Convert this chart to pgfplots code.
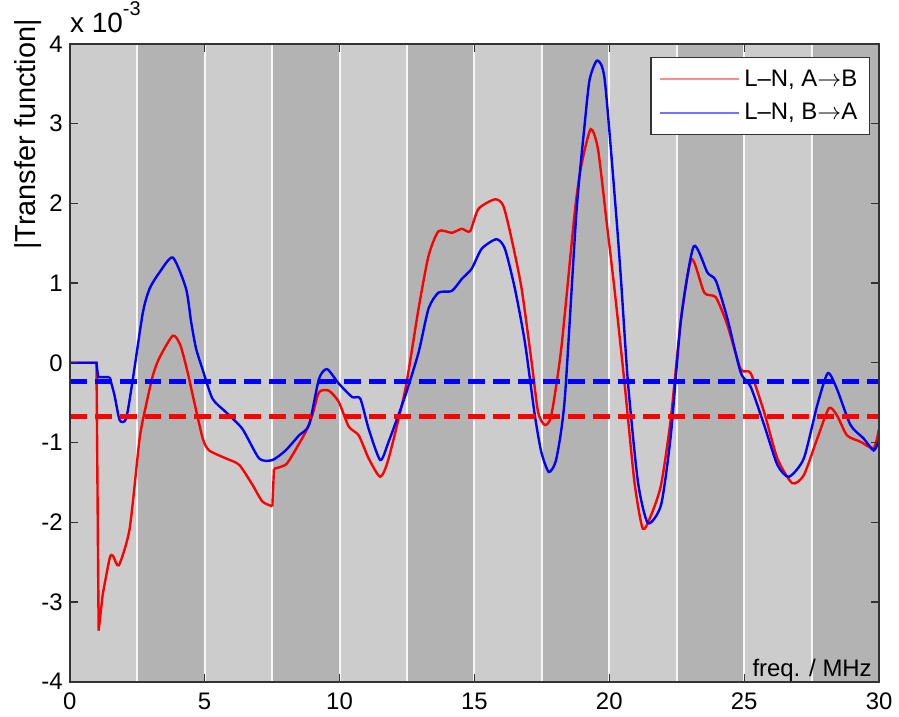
\documentclass[border=0pt]{standalone}
\usepackage{fontspec}
\setmainfont{Liberation Sans}
\usepackage{pgfplots}
\pgfplotsset{compat=1.18}

\definecolor{bandlight}{HTML}{CCCCCC}
\definecolor{banddark}{HTML}{B3B3B3}
\definecolor{axline}{HTML}{333333}

\begin{document}
\begin{tikzpicture}[font=\fontsize{12}{14}\selectfont]
\begin{axis}[
  scale only axis,
  width=406pt, height=320pt,
  xmin=0, xmax=30, ymin=-4, ymax=4,
  xtick={0,5,...,30},
  ytick={-4,-3,...,4},
  yticklabels={-4,-3,-2,-1,0,1,2,3,4},
  /pgf/number format/assume math mode=true,
  tick align=inside,
  major tick length=4pt,
  tick style={axline, line width=0.6pt},
  axis line style={axline, line width=1pt},
  axis background/.style={fill=bandlight},
  axis on top,
  xticklabel style={yshift=-2pt},
  clip=true,
  legend style={at={(1,1)}, anchor=north east, xshift=-4.5pt, yshift=-6.5pt,
    draw=axline, line width=0.8pt, fill=white, inner sep=4pt,
    row sep=3pt, font=\fontsize{12}{14}\selectfont},
  legend cell align=left,
  legend image code/.code={\draw[#1] (-2pt,0pt) -- (38pt,0pt);},
]
% darker frequency bands
\pgfplotsinvokeforeach{2.5,7.5,12.5,17.5,22.5,27.5}{
  \addplot[fill=banddark, draw=none, forget plot]
    coordinates {(#1,-4) (#1+2.5,-4) (#1+2.5,4) (#1,4)} -- cycle;
}
\pgfplotsinvokeforeach{2.5,5,...,27.5}{
  \addplot[white!93!gray, line width=1pt, forget plot]
    coordinates {(#1,-4) (#1,4)};
}

% L-N, A->B (sharp steps drawn straight, the rest smoothed)
\addplot[red, line width=1.2pt, forget plot] coordinates {
(0,0)(0.99,0)(1.07,-3.36)(1.22,-2.91)
};
\addplot[red, line width=1.2pt, smooth, tension=0.4, forget plot] coordinates {
(1.22,-2.91)(1.48,-2.45)(1.6,-2.42)(1.82,-2.54)
(2.22,-2.08)(2.59,-0.95)(2.83,-0.53)(3.08,-0.16)(3.32,0.06)(3.82,0.34)
(4.1,0.22)(4.37,-0.12)(4.56,-0.41)(4.93,-0.95)(5.17,-1.10)(5.79,-1.2)
(6.28,-1.28)(6.77,-1.53)(7.14,-1.74)(7.51,-1.80)
};
\addplot[red, line width=1.2pt, forget plot] coordinates {
(7.51,-1.80)(7.57,-1.33)
};
\addplot[red, line width=1.2pt, smooth, tension=0.4, forget plot] coordinates {
(7.57,-1.33)(8.0,-1.28)
(8.25,-1.16)(8.74,-0.87)(8.99,-0.66)(9.24,-0.37)(9.6,-0.35)(9.97,-0.49)
(10.34,-0.8)(10.71,-0.91)(11.08,-1.2)(11.51,-1.43)(11.82,-1.2)(12.44,-0.33)
(12.93,0.68)(13.3,1.34)(13.67,1.65)(14.16,1.63)(14.53,1.68)(14.84,1.65)
(15.15,1.93)(15.76,2.05)(16.07,1.97)(16.38,1.55)(16.75,0.93)(17.12,0.01)
(17.36,-0.62)(17.61,-0.78)(17.85,-0.66)(18.22,0.18)(18.72,1.89)(18.96,2.47)
(19.31,2.93)(19.58,2.68)(19.89,1.8)(20.2,0.9)(20.56,-0.24)(20.93,-1.49)
(21.24,-2.08)(21.55,-1.91)(21.92,-1.53)(22.28,-0.7)(22.66,0.55)(23.05,1.3)
(23.52,0.88)(23.95,0.82)(24.38,0.47)(24.87,-0.08)(25.24,-0.13)(25.74,-0.62)
(26.23,-1.2)(26.78,-1.51)(27.21,-1.41)(27.71,-0.95)(28.14,-0.57)(28.44,-0.66)
(28.81,-0.91)(29.31,-0.99)(29.8,-1.07)(30,-0.83)
};

% L-N, B->A
\addplot[blue, line width=1.2pt, forget plot] coordinates {
(0,0)(0.99,0)(1.05,-0.18)(1.48,-0.18)
};
\addplot[blue, line width=1.2pt, smooth, tension=0.4, forget plot] coordinates {
(1.48,-0.18)(1.66,-0.41)(1.85,-0.72)(2.09,-0.7)
(2.34,-0.2)(2.71,0.63)(2.96,0.93)(3.32,1.13)(3.82,1.32)(4.31,0.93)(4.5,0.51)
(4.68,0.18)(4.92,-0.08)(5.29,-0.45)(5.79,-0.62)(6.4,-0.83)(7.02,-1.2)
(7.51,-1.22)(8.0,-1.1)(8.5,-0.91)(8.87,-0.78)(9.24,-0.2)(9.54,-0.08)
(9.97,-0.26)(10.47,-0.43)(10.77,-0.45)(11.08,-0.83)(11.51,-1.22)(11.82,-0.99)
(12.44,-0.41)(12.93,0.13)(13.3,0.68)(13.67,0.88)(14.16,0.9)(14.53,1.05)
(14.9,1.18)(15.27,1.43)(15.82,1.55)(16.13,1.43)(16.5,0.93)(16.87,0.26)
(17.24,-0.66)(17.48,-1.12)(17.76,-1.37)(18.04,-1.2)(18.35,-0.45)(18.78,1.88)
(19.09,3.0)(19.27,3.55)(19.55,3.79)(19.83,3.55)(20.25,1.88)(20.44,1.01)
(20.69,-0.24)(21.06,-1.49)(21.43,-2.01)(21.92,-1.78)(22.28,-0.91)(22.66,0.55)
(23.13,1.46)(23.64,1.13)(23.95,1.03)(24.38,0.55)(24.87,-0.12)(25.24,-0.3)
(25.74,-0.78)(26.23,-1.28)(26.66,-1.43)(27.21,-1.2)(27.71,-0.53)(28.1,-0.13)
(28.44,-0.33)(28.94,-0.78)(29.43,-0.95)(29.8,-1.1)(30,-0.97)
};

% thresholds
\addplot[blue, line width=2.5pt, dash pattern=on 8.5pt off 4pt, forget plot]
  coordinates {(0,-0.24) (30,-0.24)};
\addplot[red, line width=2.5pt, dash pattern=on 8.5pt off 4pt, forget plot]
  coordinates {(0,-0.67) (30,-0.67)};

\addlegendimage{red!45, line width=0.9pt}
\addlegendentry{L--N, A$\rightarrow$B}
\addlegendimage{blue!55, line width=0.9pt}
\addlegendentry{L--N, B$\rightarrow$A}

\node[anchor=base east, inner sep=0pt, xshift=-3.5pt, yshift=2.5pt]
  at (rel axis cs:1,0) {freq. / MHz};
\end{axis}
\node[anchor=base west, inner sep=0pt, yshift=5.5pt, font=\fontsize{14}{16}\selectfont]
  at (current axis.north west) {x 10\raisebox{1.2ex}{\fontsize{10}{12}\selectfont -3}};
\node[rotate=90, inner sep=0pt, font=\fontsize{14.5}{16}\selectfont]
  at ([xshift=-21pt, yshift=-45.5pt]current axis.north west) {|Transfer function|};
\path ([xshift=-35pt, yshift=-17pt]current axis.south west)
  rectangle ([xshift=8.5pt, yshift=22pt]current axis.north east);
\end{tikzpicture}
\end{document}
